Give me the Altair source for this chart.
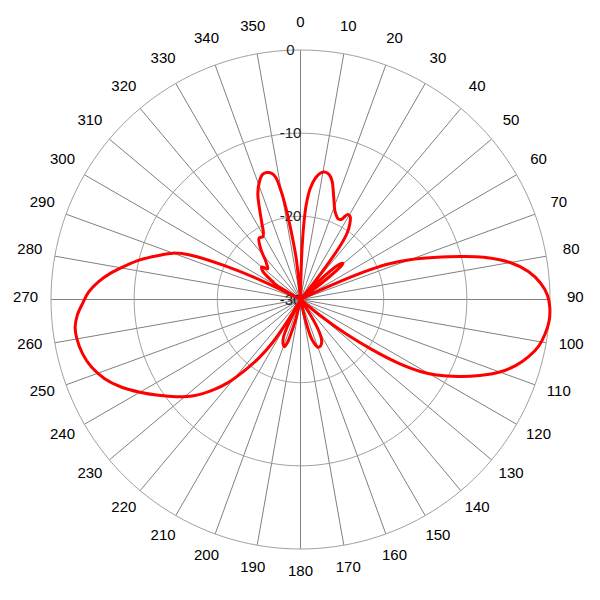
import altair as alt
import pandas as pd

# Radiation pattern: angle (deg, clockwise from top) and gain (dB)
angles = [0, 1.5, 2.5, 3.5, 5, 7, 9, 11, 13, 15, 17, 19, 21, 23, 25, 27, 29, 31, 33, 35, 36.5, 38, 39,
          44, 45, 46.5, 48, 49.5, 51, 52, 53,
          64, 65, 66, 67, 68, 70, 72.5, 75, 77, 80, 83, 86, 89, 92, 95, 98, 101, 104, 107, 110,
          113, 116, 119, 121, 123, 125, 127, 129, 131,
          146, 148, 151, 154, 157, 160, 163, 165, 167, 168.5,
          191, 193, 195, 197, 199, 201, 204, 206, 208,
          209, 211, 213, 215.5, 218, 221, 224, 228, 232, 236, 240, 244, 248, 252, 256, 260, 263,
          266, 269, 272, 275, 278, 281, 284, 287, 290, 292, 294, 296, 298,
          299, 301, 303, 305, 307, 310, 313, 316, 319, 322, 326, 329, 331, 333, 336, 338, 341,
          343, 345, 347, 348.5, 350, 351, 352, 354, 355.5, 360]
gains = [-30, -25, -21, -18.5, -16.6, -15.3, -14.6, -14.4, -14.6, -15.3, -16.5, -17.6, -18.5, -19.0, -19.3, -19.2, -18.3, -18.4, -19.1, -20.2, -22, -26, -30,
         -30, -27, -24.8, -23.7, -23.3, -24, -26, -30,
         -30, -26.5, -23, -20.5, -18.6, -16, -13.2, -10, -7.4, -4.4, -2.4, -1.1, -0.3, 0, 0, -0.3, -0.8, -1.7, -2.9, -4.5,
         -6.6, -8.9, -11.3, -13.2, -15.9, -19.5, -23, -26.5, -30,
         -30, -27, -25, -24.2, -23.9, -23.9, -24.6, -25.6, -28, -30,
         -30, -28, -26.3, -24.5, -24.0, -24.2, -24.9, -26.5, -30,
         -30, -27, -23.8, -21.3, -19.3, -16.8, -14.9, -12.7, -11.0, -9.4, -7.7, -6.0, -4.6, -3.6, -3.0, -2.7, -2.7,
         -3.1, -3.8, -4.5, -5.6, -7.0, -8.6, -10.2, -12.0, -13.7, -15.8, -20, -25, -30,
         -30, -26.5, -26, -25, -24.3, -23.9, -24.6, -24.2, -23.4, -22.2, -21.1, -21.2, -20.8, -19.8, -17.8, -16.3, -14.9,
         -14.3, -14.2, -14.4, -15, -17, -19, -21.3, -25, -30, -30]

spoke_angles = list(range(0, 360, 10))
spoke_labels = [str(a) for a in spoke_angles]
ring_values = [-20, -10, 0]
ring_label_values = [-30, -20, -10, 0]
ring_labels = ["-30", "-20", "-10", "0"]

RMIN = -30
RSPAN = 30
SIZE = 499
LABEL_R = 33.05  # in dB units beyond centre (outside the outer ring)

xs = alt.Scale(domain=[-RSPAN, RSPAN], range=[0, SIZE])
ys = alt.Scale(domain=[-RSPAN, RSPAN], range=[SIZE, 0])

pattern = pd.DataFrame({"angle": angles, "gain": gains, "i": range(len(angles))})
spokes = pd.DataFrame({"angle": spoke_angles, "label": spoke_labels})
ring_t = list(range(0, 361, 2))
rings = pd.DataFrame([{"ring": v, "t": t} for v in ring_values for t in ring_t])
rlab = pd.DataFrame({"v": ring_label_values, "label": ring_labels})

ring_layer = alt.Chart(rings).transform_calculate(
    x=f"(datum.ring - {RMIN}) * sin(datum.t * PI / 180)",
    y=f"(datum.ring - {RMIN}) * cos(datum.t * PI / 180)",
).mark_line(color="#a0a0a0", strokeWidth=1).encode(
    x=alt.X("x:Q", scale=xs, axis=None),
    y=alt.Y("y:Q", scale=ys, axis=None),
    detail="ring:N",
    order="t:Q",
)

spoke_layer = alt.Chart(spokes).transform_calculate(
    x0="0", y0="0",
    x1=f"{RSPAN} * sin(datum.angle * PI / 180)",
    y1=f"{RSPAN} * cos(datum.angle * PI / 180)",
).mark_rule(color="#808080", strokeWidth=1).encode(
    x=alt.X("x0:Q", scale=xs, axis=None),
    y=alt.Y("y0:Q", scale=ys, axis=None),
    x2="x1:Q",
    y2="y1:Q",
)

angle_text = alt.Chart(spokes).transform_calculate(
    x=f"{LABEL_R} * sin(datum.angle * PI / 180)",
    y=f"{LABEL_R} * cos(datum.angle * PI / 180)",
).mark_text(font="Liberation Sans", fontSize=15, color="#000000",
            align="center", baseline="middle", dy=-3).encode(
    x=alt.X("x:Q", scale=xs, axis=None),
    y=alt.Y("y:Q", scale=ys, axis=None),
    text="label:N",
)

ring_text = alt.Chart(rlab).transform_calculate(
    x="0",
    y=f"datum.v - {RMIN}",
).mark_text(font="Liberation Sans", fontSize=15, color="#222222",
            align="center", baseline="middle", dx=-10).encode(
    x=alt.X("x:Q", scale=xs, axis=None),
    y=alt.Y("y:Q", scale=ys, axis=None),
    text="label:N",
)

pattern_layer = alt.Chart(pattern).transform_calculate(
    r=f"max(datum.gain, {RMIN}) - {RMIN}",
).transform_calculate(
    x="datum.r * sin(datum.angle * PI / 180)",
    y="datum.r * cos(datum.angle * PI / 180)",
).mark_line(color="#ff0000", strokeWidth=3, interpolate="catmull-rom").encode(
    x=alt.X("x:Q", scale=xs, axis=None),
    y=alt.Y("y:Q", scale=ys, axis=None),
    order="i:Q",
)

chart = alt.layer(spoke_layer, ring_layer, angle_text, ring_text, pattern_layer).properties(
    width=SIZE, height=SIZE,
    autosize="none",
    padding={"left": 43, "top": 42, "right": 42, "bottom": 42},
    background="white",
).configure_view(stroke=None)

chart.save("out.html", embed_options={"renderer": "svg", "actions": False})
